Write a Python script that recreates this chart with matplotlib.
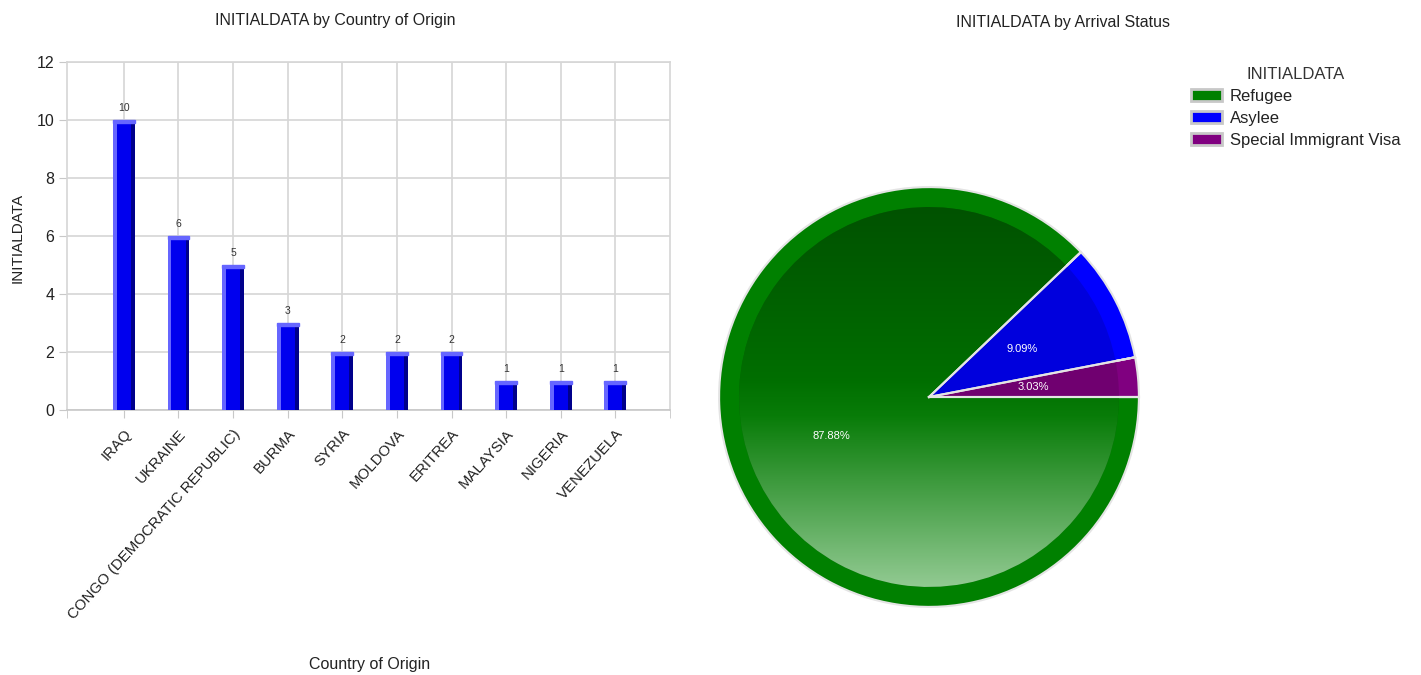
import numpy as np
import matplotlib
matplotlib.use("Agg")
import matplotlib.pyplot as plt
from matplotlib.patches import Wedge, Patch, Rectangle
from matplotlib.colors import LinearSegmentedColormap

plt.rcParams['font.family'] = ['Liberation Sans', 'DejaVu Sans']

# Data
countries = ['IRAQ', 'UKRAINE', 'CONGO (DEMOCRATIC REPUBLIC)', 'BURMA', 'SYRIA',
             'MOLDOVA', 'ERITREA', 'MALAYSIA', 'NIGERIA', 'VENEZUELA']
country_counts = [10, 6, 5, 3, 2, 2, 2, 1, 1, 1]

statuses = ['Refugee', 'Asylee', 'Special Immigrant Visa']
status_counts = [29, 3, 1]
status_colors = ['#008000', '#0000ff', '#800080']
status_inner = ['#006a00', '#0000dd', '#700070']

W, H = 1421, 675
fig = plt.figure(figsize=(W / 100, H / 100), dpi=100)
fig.patch.set_facecolor('white')

# px helpers
def fx(px):
    return px / W

def fy(py):
    return 1 - py / H

# ---------------- bar chart ----------------
ax = fig.add_axes([fx(67), fy(410), fx(670) - fx(67), fy(62) - fy(410)])
x = np.arange(len(countries))
bw = 0.4
ax.bar(x, country_counts, width=bw, color='#0000ee', zorder=3)
# bevel: light left/top, dark right
edge = 0.07
ax.bar(x - bw / 2 + edge / 2, country_counts, width=edge, color='#6666ff', zorder=4)
ax.bar(x + bw / 2 - edge / 2, country_counts, width=edge, color='#00008b', zorder=4)
for xi, v in zip(x, country_counts):
    ax.add_patch(Rectangle((xi - bw / 2, v - 0.1), bw, 0.1, color='#6666ff', zorder=5))
    ax.text(xi, v + 0.25, str(v), ha='center', va='bottom', fontsize=7.5, color='#333333')

ax.set_xlim(-1.04, 10.0)
ax.set_ylim(0, 12)
ax.set_yticks(range(0, 13, 2))
ax.set_xticks(x)
ax.set_xticklabels(countries, rotation=48, ha='right', rotation_mode='anchor',
                   fontsize=10.8, color='#222222')
ax.set_xticks([-1.04, 10.0], minor=True)
ax.tick_params(axis='x', which='both', length=6, color='#c8c8c8', pad=6)
ax.tick_params(axis='y', length=6, color='#c8c8c8', labelsize=11.5, labelcolor='#222222', pad=3)
ax.grid(True, color='#d6d6d6', linewidth=1.2, zorder=0)
ax.set_axisbelow(True)
for s in ax.spines.values():
    s.set_color('#d6d6d6')
    s.set_linewidth(1.2)
ax.spines['bottom'].set_color('#c8c8c8')

fig.text(fx(335), fy(20), 'INITIALDATA by Country of Origin', ha='center', va='center',
         fontsize=11.5, color='#222222')
fig.text(fx(18), fy(238), 'INITIALDATA', ha='center', va='center', rotation=90,
         fontsize=11, color='#222222')
fig.text(fx(370), fy(665), 'Country of Origin', ha='center', va='center',
         fontsize=11.5, color='#222222')

# ---------------- pie chart ----------------
cx, cy, r = 929, 397, 212
pax = fig.add_axes([fx(cx - r), fy(cy + r), (2 * r) / W, (2 * r) / H])
wedges, texts, autotexts = pax.pie(
    status_counts, colors=status_colors, startangle=0, counterclock=False,
    radius=1.0, autopct='%.2f%%', pctdistance=0.5,
    wedgeprops=dict(edgecolor='#e4e4e4', linewidth=1.5),
    textprops=dict(color='white', fontsize=8))

# inner shaded disk
inner_r = 0.905
grad = LinearSegmentedColormap.from_list(
    'g', [(0.0, '#005200'), (0.45, '#006e00'), (0.55, '#087c08'), (1.0, '#92ca92')])
for w, c in zip(wedges, status_inner):
    iw = Wedge((0, 0), inner_r, w.theta1, w.theta2, facecolor=c, edgecolor='none', zorder=2)
    pax.add_patch(iw)
    if c == status_inner[0]:
        img = pax.imshow(np.linspace(0, 1, 256).reshape(-1, 1), cmap=grad, aspect='auto',
                         origin='upper', extent=[-1, 1, -inner_r, inner_r], zorder=2.5)
        img.set_clip_path(iw)
# redraw separators over the shading
for w in wedges:
    for th in (w.theta1, w.theta2):
        t = np.deg2rad(th)
        pax.plot([0, np.cos(t)], [0, np.sin(t)], color='#e4e4e4', lw=1.5, zorder=3)
for t in autotexts:
    t.set_zorder(6)
pax.set_xlim(-1.01, 1.01)
pax.set_ylim(-1.01, 1.01)
pax.set_aspect('auto')
pax.axis('off')

fig.text(fx(1063), fy(22), 'INITIALDATA by Arrival Status', ha='center', va='center',
         fontsize=11.5, color='#222222')

handles = [Patch(facecolor=c, edgecolor='#c8c8c8', linewidth=2) for c in status_colors]
leg = fig.legend(handles, statuses, title='INITIALDATA', loc='upper left',
                 bbox_to_anchor=(fx(1184), fy(60)), frameon=False, fontsize=12,
                 title_fontsize=12, handlelength=1.9, handleheight=0.75,
                 labelspacing=0.42, handletextpad=0.45, borderaxespad=0)
leg.get_title().set_color('#333333')
for t in leg.get_texts():
    t.set_color('#222222')

fig.savefig('out.png', dpi=100, facecolor='white')
